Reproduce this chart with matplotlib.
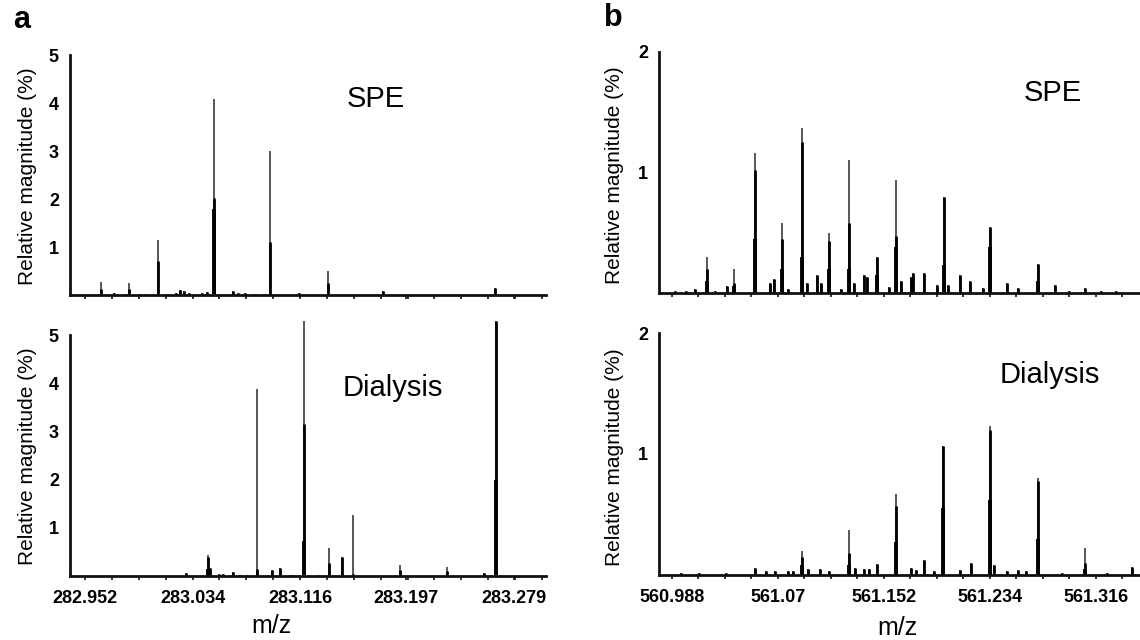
import matplotlib
matplotlib.use("Agg")
import matplotlib.pyplot as plt
import numpy as np
from matplotlib.ticker import FixedLocator, NullFormatter

plt.rcParams["font.family"] = ["Liberation Sans", "DejaVu Sans"]

W, H = 1140, 640

# ---------------- panel a : m/z 283 region ----------------
a_ticks = [282.952, 283.034, 283.116, 283.197, 283.279]
a_tick_labels = ["282.952", "283.034", "283.116", "283.197", "283.279"]
a_xlim = (282.9404, 283.3037)
a_ylim = (0, 5)
a_yticks = [1, 2, 3, 4, 5]

a_spe_mz = [282.9644, 282.9742, 282.9836, 282.9858, 282.9938, 282.9985, 283.0076,
            283.0145, 283.0214, 283.0247, 283.0276, 283.0312, 283.0414, 283.0447,
            283.0501, 283.0646, 283.0683, 283.0741, 283.0817, 283.0886, 283.0930,
            283.1148, 283.1370, 283.1795, 283.2648]
a_spe_full = [0.28, 0.05, 0.03, 0.24, 0.02, 0.03, 1.14,
              0.03, 0.05, 0.10, 0.08, 0.05, 0.04, 0.06,
              4.08, 0.08, 0.05, 0.05, 0.03, 0.03, 3.00,
              0.04, 0.49, 0.09, 0.15]
a_spe_core = [0.12, 0.05, 0.03, 0.12, 0.02, 0.03, 0.70,
              0.03, 0.05, 0.10, 0.08, 0.05, 0.04, 0.06,
              2.02, 0.08, 0.05, 0.05, 0.03, 0.03, 1.10,
              0.04, 0.25, 0.09, 0.15]
a_spe_base = [0, 0, 0, 0, 0, 0, 0,
              0, 0, 0, 0, 0, 0, 0,
              1.80, 0, 0, 0, 0, 0, 0,
              0, 0, 0, 0]

a_dia_mz = [283.0290, 283.0461, 283.0472, 283.0545, 283.0574, 283.0646, 283.0701,
            283.0752, 283.0828, 283.0944, 283.1006, 283.1082, 283.1108, 283.1188,
            283.1308, 283.1377, 283.1478, 283.1562, 283.1922, 283.2285, 283.2565,
            283.2652]
a_dia_full = [0.06, 0.43, 0.17, 0.04, 0.05, 0.09, 0.03,
              0.03, 3.87, 0.12, 0.17, 0.03, 0.03, 5.30,
              0.03, 0.59, 0.40, 1.27, 0.23, 0.19, 0.07,
              5.30]
a_dia_core = [0.06, 0.40, 0.17, 0.04, 0.05, 0.09, 0.03,
              0.03, 0.14, 0.12, 0.17, 0.03, 0.03, 3.15,
              0.03, 0.27, 0.40, 0.05, 0.12, 0.10, 0.07,
              5.30]
a_dia_base = [0, 0.15, 0, 0, 0, 0, 0,
              0, 0, 0, 0, 0, 0, 0.72,
              0, 0, 0, 0, 0, 0, 0,
              2.00]

# ---------------- panel b : m/z 561 region ----------------
b_ticks = [560.988, 561.070, 561.152, 561.234, 561.316]
b_tick_labels = ["560.988", "561.07", "561.152", "561.234", "561.316"]
b_xlim = (560.9781, 561.3502)
b_ylim = (0, 2)
b_yticks = [1, 2]

b_spe_mz = [560.9908, 560.9992, 561.0062, 561.0152, 561.0218, 561.0308, 561.0365,
            561.0525, 561.0637, 561.0670, 561.0729, 561.0777, 561.0884, 561.0923,
            561.1001, 561.1035, 561.1097, 561.1189, 561.1248, 561.1290, 561.1366,
            561.1388, 561.1464, 561.1562, 561.1618, 561.1654, 561.1730, 561.1749,
            561.1828, 561.1931, 561.1982, 561.2018, 561.2113, 561.2189, 561.2284,
            561.2340, 561.2472, 561.2556, 561.2711, 561.2843, 561.2956, 561.3075,
            561.3202, 561.3314]
b_spe_full = [0.02, 0.02, 0.03, 0.30, 0.02, 0.06, 0.20,
              1.16, 0.08, 0.12, 0.58, 0.03, 1.37, 0.08,
              0.15, 0.08, 0.50, 0.03, 1.10, 0.08, 0.15,
              0.13, 0.30, 0.05, 0.94, 0.10, 0.13, 0.17,
              0.17, 0.07, 0.80, 0.07, 0.15, 0.10, 0.04,
              0.55, 0.08, 0.04, 0.24, 0.07, 0.02, 0.04,
              0.02, 0.02]
b_spe_core = [0.02, 0.02, 0.03, 0.20, 0.02, 0.06, 0.08,
              1.02, 0.08, 0.12, 0.45, 0.03, 1.25, 0.08,
              0.15, 0.08, 0.43, 0.03, 0.58, 0.08, 0.15,
              0.13, 0.30, 0.05, 0.47, 0.10, 0.13, 0.17,
              0.17, 0.07, 0.80, 0.07, 0.15, 0.10, 0.04,
              0.55, 0.08, 0.04, 0.24, 0.07, 0.02, 0.04,
              0.02, 0.02]
b_spe_base = [0, 0, 0, 0.10, 0, 0, 0.06,
              0.45, 0, 0, 0.20, 0, 0.30, 0,
              0, 0, 0.20, 0, 0.20, 0, 0,
              0, 0.15, 0, 0.38, 0, 0, 0,
              0, 0, 0.23, 0, 0, 0, 0,
              0.38, 0, 0, 0.10, 0, 0, 0,
              0, 0]

b_dia_mz = [560.9950, 561.0090, 561.0300, 561.0525, 561.0609, 561.0679, 561.0777,
            561.0819, 561.0889, 561.0931, 561.1029, 561.1099, 561.1248, 561.1296,
            561.1366, 561.1408, 561.1464, 561.1612, 561.1730, 561.1772, 561.1828,
            561.1907, 561.1977, 561.2109, 561.2193, 561.2341, 561.2369, 561.2473,
            561.2557, 561.2622, 561.2711, 561.2900, 561.3075, 561.3250, 561.3440]
b_dia_full = [0.02, 0.02, 0.02, 0.06, 0.03, 0.03, 0.03,
              0.03, 0.20, 0.05, 0.05, 0.03, 0.37, 0.06,
              0.05, 0.05, 0.09, 0.67, 0.06, 0.04, 0.12,
              0.03, 1.07, 0.04, 0.10, 1.23, 0.08, 0.03,
              0.04, 0.03, 0.80, 0.02, 0.22, 0.02, 0.07]
b_dia_core = [0.02, 0.02, 0.02, 0.06, 0.03, 0.03, 0.03,
              0.03, 0.15, 0.05, 0.05, 0.03, 0.18, 0.06,
              0.05, 0.05, 0.09, 0.57, 0.06, 0.04, 0.12,
              0.03, 1.07, 0.04, 0.10, 1.20, 0.08, 0.03,
              0.04, 0.03, 0.78, 0.02, 0.10, 0.02, 0.07]
b_dia_base = [0, 0, 0, 0, 0, 0, 0,
              0, 0.08, 0, 0, 0, 0.08, 0,
              0, 0, 0, 0.27, 0, 0, 0,
              0, 0.55, 0, 0, 0.62, 0, 0,
              0, 0, 0.30, 0, 0.05, 0, 0]


fig = plt.figure(figsize=(W / 100, H / 100), dpi=100)


def px_axes(left, right, top, bottom):
    return fig.add_axes([left / W, 1 - bottom / H, (right - left) / W, (bottom - top) / H])


def draw_spectrum(ax, mz, full, core, base, xlim, ylim, yticks, ticks, labels, show_x):
    ax.vlines(mz, 0, full, color="#4a4a4a", lw=1.3, clip_on=False)
    ax.vlines(mz, 0, core, color="black", lw=2.0, clip_on=False)
    ax.vlines(mz, 0, base, color="black", lw=2.8, clip_on=False)
    ax.set_xlim(*xlim)
    ax.set_ylim(*ylim)
    for side in ("top", "right"):
        ax.spines[side].set_visible(False)
    for side in ("left", "bottom"):
        ax.spines[side].set_linewidth(2.0)
        ax.spines[side].set_color("#111111")
    ax.set_yticks(yticks)
    ax.set_yticklabels([str(v) for v in yticks], fontsize=13, fontweight="bold")
    ax.tick_params(axis="y", length=0, pad=8)
    step = (ticks[1] - ticks[0]) / 4
    minor = np.arange(ticks[0] - 4 * step, xlim[1], step)
    ax.xaxis.set_major_locator(FixedLocator(ticks))
    ax.xaxis.set_minor_locator(FixedLocator(minor))
    ax.tick_params(axis="x", which="both", direction="out", length=3, width=1.3,
                   color="#222222", pad=7)
    if show_x:
        ax.set_xticklabels(labels, fontsize=13, fontweight="bold")
    else:
        ax.xaxis.set_major_formatter(NullFormatter())
    ax.patch.set_alpha(0)


ax_a1 = px_axes(70, 546, 55, 295)
draw_spectrum(ax_a1, a_spe_mz, a_spe_full, a_spe_core, a_spe_base,
              a_xlim, a_ylim, a_yticks, a_ticks, a_tick_labels, False)
ax_a2 = px_axes(70, 546, 335, 576)
draw_spectrum(ax_a2, a_dia_mz, a_dia_full, a_dia_core, a_dia_base,
              a_xlim, a_ylim, a_yticks, a_ticks, a_tick_labels, True)
ax_b1 = px_axes(659, 1140, 52, 293)
draw_spectrum(ax_b1, b_spe_mz, b_spe_full, b_spe_core, b_spe_base,
              b_xlim, b_ylim, b_yticks, b_ticks, b_tick_labels, False)
ax_b2 = px_axes(659, 1140, 333, 575)
draw_spectrum(ax_b2, b_dia_mz, b_dia_full, b_dia_core, b_dia_base,
              b_xlim, b_ylim, b_yticks, b_ticks, b_tick_labels, True)


def ptext(x, y, s, **kw):
    fig.text(x / W, 1 - y / H, s, ha="center", va="center", **kw)


# panel letters and sample names
ptext(22, 20, "a", fontsize=22, fontweight="bold")
ptext(613, 18, "b", fontsize=22, fontweight="bold")
ptext(376, 99, "SPE", fontsize=21)
ptext(393, 388, "Dialysis", fontsize=21)
ptext(1053, 93, "SPE", fontsize=21)
ptext(1050, 375, "Dialysis", fontsize=21)

# axis titles
for x, y in [(28, 176), (28, 456), (615, 175), (615, 457)]:
    ptext(x, y, "Relative magnitude (%)", fontsize=15, rotation=90)
ptext(271, 626, "m/z", fontsize=18)
ptext(897, 628, "m/z", fontsize=18)

fig.savefig("out.png", dpi=100)
